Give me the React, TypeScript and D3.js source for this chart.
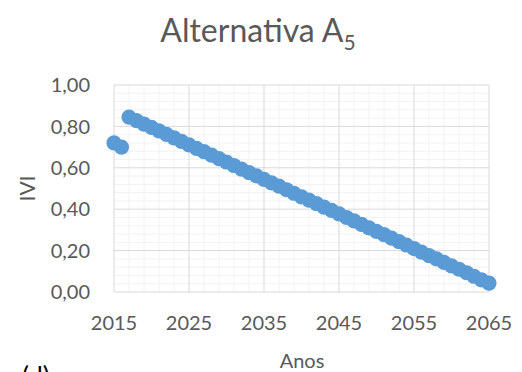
import React from "react";
import * as d3 from "d3";

const years: number[] = [
  2015, 2016, 2017, 2018, 2019, 2020, 2021, 2022, 2023, 2024, 2025, 2026, 2027,
  2028, 2029, 2030, 2031, 2032, 2033, 2034, 2035, 2036, 2037, 2038, 2039, 2040,
  2041, 2042, 2043, 2044, 2045, 2046, 2047, 2048, 2049, 2050, 2051, 2052, 2053,
  2054, 2055, 2056, 2057, 2058, 2059, 2060, 2061, 2062, 2063, 2064, 2065,
];
const ivi: number[] = [
  0.72, 0.7, 0.845, 0.828, 0.811, 0.795, 0.778, 0.761, 0.745, 0.728, 0.711,
  0.694, 0.678, 0.661, 0.644, 0.628, 0.611, 0.594, 0.577, 0.561, 0.544, 0.527,
  0.511, 0.494, 0.477, 0.46, 0.444, 0.427, 0.41, 0.394, 0.377, 0.36, 0.344,
  0.327, 0.31, 0.293, 0.277, 0.26, 0.243, 0.227, 0.21, 0.193, 0.176, 0.16,
  0.143, 0.126, 0.11, 0.093, 0.076, 0.059, 0.043,
];
const xTicks: number[] = [2015, 2025, 2035, 2045, 2055, 2065];
const xMinor: number[] = [
  2017, 2019, 2021, 2023, 2027, 2029, 2031, 2033, 2037, 2039, 2041, 2043, 2047,
  2049, 2051, 2053, 2057, 2059, 2061, 2063,
];
const yTicks: number[] = [0, 0.2, 0.4, 0.6, 0.8, 1.0];
const yMinor: number[] = [
  0.04, 0.08, 0.12, 0.16, 0.24, 0.28, 0.32, 0.36, 0.44, 0.48, 0.52, 0.56, 0.64,
  0.68, 0.72, 0.76, 0.84, 0.88, 0.92, 0.96,
];

const W = 522;
const H = 372;
const left = 114;
const right = 489;
const top = 85;
const bottom = 292;
const font = "Lato, 'Open Sans', sans-serif";
const textColor = "#595959";

export default function App() {
  const x = d3.scaleLinear().domain([2015, 2065]).range([left, right]);
  const y = d3.scaleLinear().domain([0, 1]).range([bottom, top]);
  const fmt = (v: number) => v.toFixed(2).replace(".", ",");

  return (
    <svg
      width={W}
      height={H}
      style={{ position: "absolute", left: 0, top: 0, background: "#fff" }}
    >
      <rect x={0} y={0} width={W} height={H} fill="#fff" />
      {xMinor.map((v) => (
        <line key={"xm" + v} x1={x(v)} x2={x(v)} y1={top} y2={bottom} stroke="#F2F2F2" strokeWidth={1} />
      ))}
      {yMinor.map((v) => (
        <line key={"ym" + v} x1={left} x2={right} y1={y(v)} y2={y(v)} stroke="#F2F2F2" strokeWidth={1} />
      ))}
      {xTicks.map((v) => (
        <line key={"xM" + v} x1={x(v)} x2={x(v)} y1={top} y2={bottom} stroke="#D9D9D9" strokeWidth={1} />
      ))}
      {yTicks.map((v) => (
        <line key={"yM" + v} x1={left} x2={right} y1={y(v)} y2={y(v)} stroke="#D9D9D9" strokeWidth={1} />
      ))}
      {years.map((yr, i) => (
        <circle key={"p" + yr} cx={x(yr)} cy={y(ivi[i])} r={7.6} fill="#5B9BD5" />
      ))}
      {yTicks.map((v) => (
        <text key={"yl" + v} x={90} y={y(v)} dy="0.36em" textAnchor="end" fontFamily={font} fontSize={20} fill={textColor}>
          {fmt(v)}
        </text>
      ))}
      {xTicks.map((v) => (
        <text key={"xl" + v} x={x(v)} y={330} textAnchor="middle" fontFamily={font} fontSize={20} fill={textColor}>
          {v}
        </text>
      ))}
      <text x={258} y={42} textAnchor="middle" fontFamily={font} fontSize={32} fill={textColor}>
        Alternativa A
        <tspan fontSize={21} dy={8}>5</tspan>
      </text>
      <text
        transform={`translate(35,${(top + bottom) / 2}) rotate(-90)`}
        textAnchor="middle"
        fontFamily={font}
        fontSize={21}
        fill={textColor}
      >
        IVI
      </text>
      <text x={302} y={368} textAnchor="middle" fontFamily={font} fontSize={20} fill={textColor}>
        Anos
      </text>
      <text x={22} y={386} fontFamily={font} fontSize={26} fill="#000">
        (d)
      </text>
    </svg>
  );
}
